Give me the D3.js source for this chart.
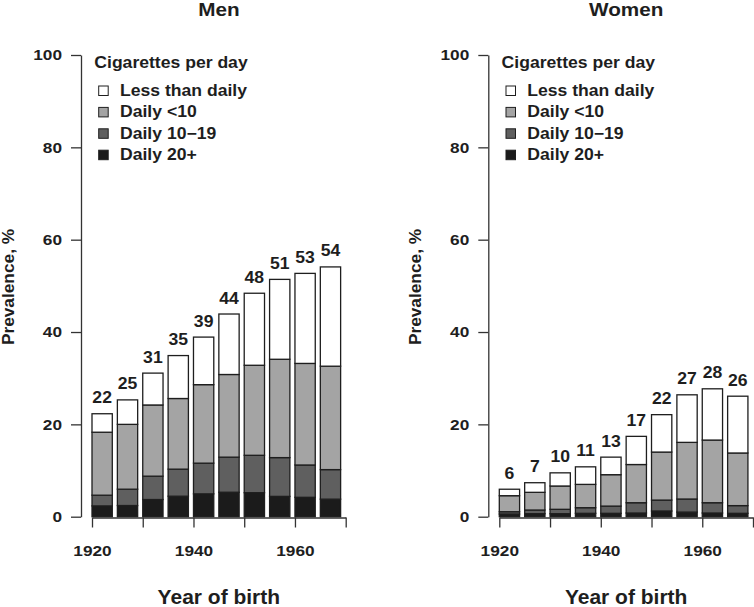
<!DOCTYPE html>
<html>
<head>
<meta charset="utf-8">
<script src="https://cdn.jsdelivr.net/npm/d3@7"></script>
<style>
  html, body { margin: 0; padding: 0; background: #fff; }
  svg { display: block; font-family: "Liberation Sans", Arial, sans-serif; font-weight: bold; }
</style>
</head>
<body>
<svg id="chart" width="754" height="607"></svg>
<script>
// ---- data ----
const birthYears = [1920, 1925, 1930, 1935, 1940, 1945, 1950, 1955, 1960, 1965];
const seriesNames = ["Daily 20+", "Daily 10\u221219", "Daily <10", "Less than daily"];
const legendOrder = ["Less than daily", "Daily <10", "Daily 10\u221219", "Daily 20+"];

const menDaily20 = [2.34, 2.42, 3.72, 4.44, 4.95, 5.3, 5.2, 4.4, 4.2, 3.8];
const menDaily10_19 = [2.32, 3.54, 5.06, 5.86, 6.65, 7.6, 8.1, 8.4, 7.0, 6.4];
const menDailyLt10 = [13.64, 14.04, 15.42, 15.3, 17.0, 17.9, 19.5, 21.3, 22.0, 22.4];
const menLessDaily = [4.0, 5.3, 6.9, 9.3, 10.3, 13.1, 15.6, 17.3, 19.5, 21.5];
const menLabels = [22, 25, 31, 35, 39, 44, 48, 51, 53, 54];

const womenDaily20 = [0.58, 0.65, 0.65, 0.73, 0.73, 0.8, 1.23, 1.0, 0.8, 0.73];
const womenDaily10_19 = [0.5, 0.8, 0.95, 1.22, 1.57, 2.23, 2.37, 2.83, 2.23, 1.67];
const womenDailyLt10 = [3.47, 3.83, 5.05, 5.05, 6.8, 8.27, 10.4, 12.27, 13.57, 11.4];
const womenLessDaily = [1.4, 2.08, 2.85, 3.8, 3.8, 6.1, 8.1, 10.3, 11.1, 12.3];
const womenLabels = [6, 7, 10, 11, 13, 17, 22, 27, 28, 26];

const yTicks = [0, 20, 40, 60, 80, 100];
const xTicks = [1920, 1930, 1940, 1950, 1960, 1970];
const xTickLabels = {1920: "1920", 1940: "1940", 1960: "1960"};

// ---- styles ----
const fills = {"Daily 20+": "#1b1b1b", "Daily 10\u221219": "#5f5f5f", "Daily <10": "#a4a4a4", "Less than daily": "#ffffff"};
const ink = "#1e1e1e";

const svg = d3.select("#chart");

function stretch(sel, sx) {
  sel.each(function () {
    const t = d3.select(this);
    const x = +t.attr("x") || 0, y = +t.attr("y") || 0;
    const rot = t.attr("data-rot");
    t.attr("x", 0).attr("y", 0)
     .attr("transform", `translate(${x},${y})` + (rot ? ` rotate(${rot})` : "") + ` scale(${sx},1)`);
  });
}

function panel(opts) {
  const {ox, title, layers, labels} = opts;
  const g = svg.append("g").attr("transform", `translate(${ox},0)`);
  const axisX = 81;
  const x = d3.scaleLinear().domain([1920, 1970]).range([92, 345.7]);
  const y = d3.scaleLinear().domain([0, 100]).range([516.7, 55]);

  const rows = birthYears.map((yr, i) => {
    const o = {year: yr};
    seriesNames.forEach(n => o[n] = layers[n][i]);
    return o;
  });
  const stacked = d3.stack().keys(seriesNames)(rows);

  // bars
  stacked.forEach(s => {
    g.selectAll(null).data(s).enter().append("rect")
      .attr("x", d => x(d.data.year))
      .attr("width", d => x(d.data.year + 4) - x(d.data.year))
      .attr("y", d => y(d[1]))
      .attr("height", d => y(d[0]) - y(d[1]))
      .attr("fill", fills[s.key])
      .attr("stroke", ink)
      .attr("stroke-width", 1.3);
  });

  // bar labels
  const lab = g.selectAll(null).data(rows).enter().append("text")
    .attr("x", (d) => x(d.year + 2))
    .attr("y", (d) => y(d3.sum(seriesNames, n => d[n])) - 10.5)
    .attr("text-anchor", "middle")
    .attr("font-size", 16)
    .attr("fill", ink)
    .text((d, i) => labels[i]);
  stretch(lab, 1.1);

  // y axis
  const ya = g.append("g").attr("transform", `translate(${axisX},0)`)
    .call(d3.axisLeft(y).tickValues(yTicks).tickSize(10).tickSizeOuter(0).tickPadding(9));
  ya.attr("font-size", 15).attr("font-family", "Liberation Sans, Arial, sans-serif");
  ya.select(".domain").attr("stroke", "#333").attr("stroke-width", 1.3);
  ya.selectAll(".tick line").attr("stroke", "#333").attr("stroke-width", 1.3);
  ya.selectAll(".tick text").attr("font-size", 15).attr("fill", ink).attr("font-weight", "bold");
  stretch(ya.selectAll(".tick text"), 1.15);

  // x axis
  const xa = g.append("g").attr("transform", `translate(0,517.5)`)
    .call(d3.axisBottom(x).tickValues(xTicks).tickSize(10).tickSizeOuter(0).tickPadding(17.5)
      .tickFormat(d => xTickLabels[d] || ""));
  xa.attr("font-size", 15).attr("font-family", "Liberation Sans, Arial, sans-serif");
  xa.select(".domain").attr("stroke", "#333").attr("stroke-width", 1.3);
  xa.selectAll(".tick line").attr("stroke", "#333").attr("stroke-width", 1.3);
  xa.selectAll(".tick text").attr("font-size", 15).attr("fill", ink).attr("font-weight", "bold");
  stretch(xa.selectAll(".tick text"), 1.15);

  // title
  const tt = g.append("text").attr("x", (x(1920) + x(1970)) / 2).attr("y", 16)
    .attr("text-anchor", "middle").attr("font-size", 19).attr("fill", ink).text(title);
  stretch(tt, 1.09);

  // x axis title
  const xt = g.append("text").attr("x", (x(1920) + x(1970)) / 2).attr("y", 604)
    .attr("text-anchor", "middle").attr("font-size", 20).attr("fill", ink).text("Year of birth");
  stretch(xt, 1.05);

  // y axis title
  const yt = g.append("text").attr("x", 13.5).attr("y", 287).attr("data-rot", -90)
    .attr("text-anchor", "middle").attr("font-size", 16).attr("fill", ink).text("Prevalence, %");
  stretch(yt, 1.08);

  // legend
  const lg = g.append("g");
  const lt = lg.append("text").attr("x", 94.3).attr("y", 68.3).attr("font-size", 16)
    .attr("fill", ink).text("Cigarettes per day");
  stretch(lt, 1.1);
  legendOrder.forEach((n, i) => {
    lg.append("rect").attr("x", 98.7).attr("y", 86 + 21.4 * i).attr("width", 9.5).attr("height", 9.5)
      .attr("fill", fills[n]).attr("stroke", ink).attr("stroke-width", 1);
    const t = lg.append("text").attr("x", 120).attr("y", 95.7 + 21.4 * i).attr("font-size", 16)
      .attr("fill", ink).text(n);
    stretch(t, 1.1);
  });
}

panel({
  ox: 0, title: "Men", labels: menLabels,
  layers: {"Daily 20+": menDaily20, "Daily 10\u221219": menDaily10_19, "Daily <10": menDailyLt10, "Less than daily": menLessDaily}
});
panel({
  ox: 407.3, title: "Women", labels: womenLabels,
  layers: {"Daily 20+": womenDaily20, "Daily 10\u221219": womenDaily10_19, "Daily <10": womenDailyLt10, "Less than daily": womenLessDaily}
});
</script>
</body>
</html>
